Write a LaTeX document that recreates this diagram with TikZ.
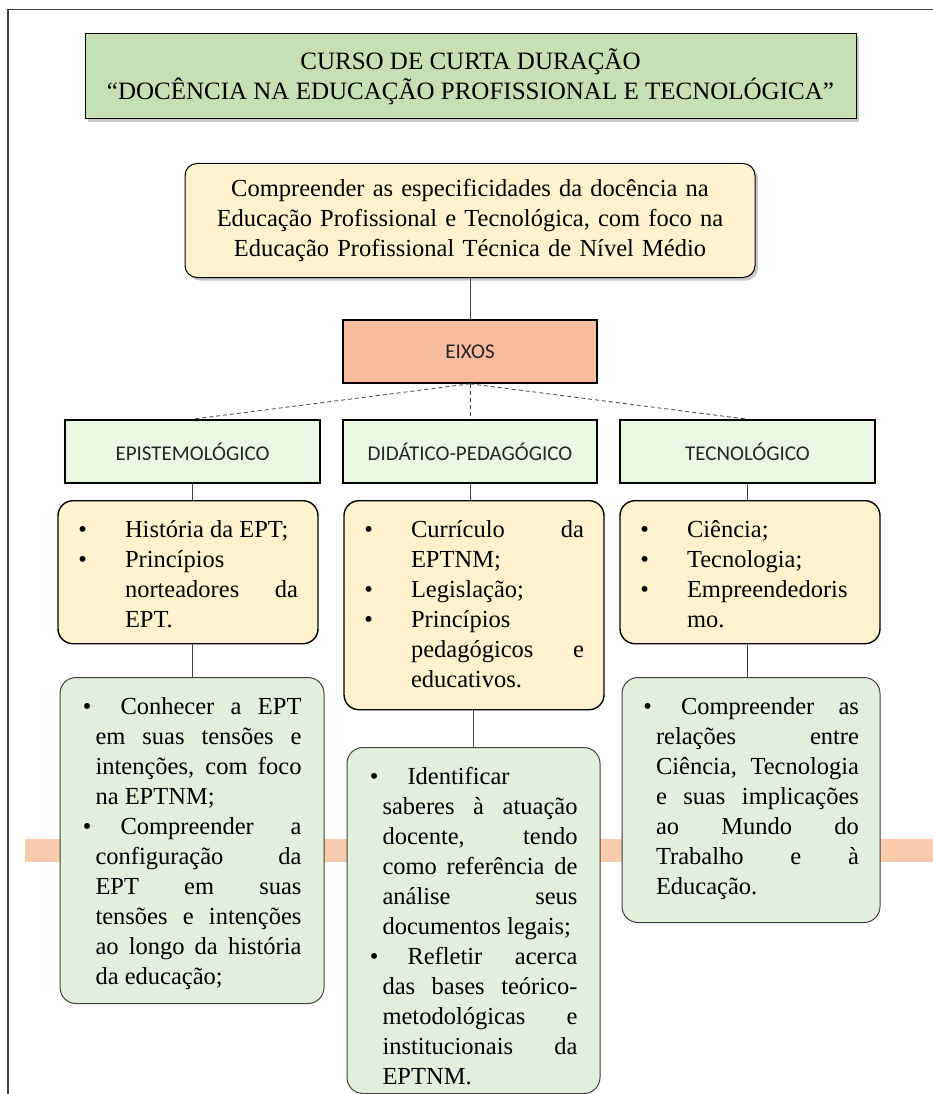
\documentclass[tikz,border=0pt]{standalone}
\usepackage{fontspec}
\setmainfont{Liberation Serif}
\newfontfamily\calibri{Carlito}
\usetikzlibrary{shadows}
\definecolor{verdetitulo}{HTML}{C5E0B4}
\definecolor{amarelo}{HTML}{FFF2CC}
\definecolor{verdeclaro}{HTML}{E2EFDA}
\definecolor{verdeeixo}{HTML}{EBF8E1}
\definecolor{salmao}{HTML}{F8BC9F}
\definecolor{faixa}{HTML}{F8CBAD}
\hyphenpenalty=10000
\hbadness=10000

\newenvironment{topicos}[3]{\begin{list}{\textbullet}{%
  \setlength{\leftmargin}{#1}\setlength{\itemindent}{#2}%
  \setlength{\labelsep}{#3}\setlength{\labelwidth}{12pt}%
  \setlength{\topsep}{0pt}\setlength{\partopsep}{0pt}%
  \setlength{\itemsep}{0pt}\setlength{\parsep}{0pt}}}{\end{list}}

\tikzset{
  texto/.style={font=\fontsize{24.5pt}{30pt}\selectfont},
  titulo/.style={draw=black, line width=1pt, fill=verdetitulo, minimum width=771pt, minimum height=85pt,
    align=center, font=\fontsize{25pt}{30pt}\selectfont,
    drop shadow={shadow xshift=3pt, shadow yshift=-3pt, opacity=.45}},
  objetivo/.style={texto, text height=21pt, draw=black, line width=1pt, fill=amarelo, rounded corners=12pt,
    text width=540pt, align=center, inner xsep=15pt, inner ysep=12pt, anchor=north,
    drop shadow={shadow xshift=3pt, shadow yshift=-3pt, opacity=.45}},
  eixo/.style={draw=black, line width=1.6pt, minimum height=63pt, text=black!85,
    font=\calibri\fontsize{21pt}{25pt}\selectfont},
  topico/.style={texto, text height=0pt, draw=black, line width=1.4pt, fill=amarelo, rounded corners=15pt,
    align=justify, text width=220pt, inner xsep=20pt, inner ysep=6.5pt, anchor=north},
  meta/.style={texto, text height=0pt, draw=black!75, line width=1pt, fill=verdeclaro, rounded corners=16pt,
    align=justify, inner ysep=6.5pt, anchor=north},
  liga/.style={draw=black!75, line width=.8pt},
  tracejado/.style={liga, dash pattern=on 4pt off 3pt}
}

\begin{document}
\begin{tikzpicture}[x=1pt,y=-1pt]
\useasboundingbox (0,0) rectangle (933,1094);
\draw[black!75, line width=1.5pt] (8,1094) -- (8,9.5) -- (933,9.5);
\fill[faixa] (25,839) rectangle (933,862);

\node[titulo] (curso) at (470.5,76.5) {CURSO DE CURTA DURAÇÃO\\“DOCÊNCIA NA EDUCAÇÃO PROFISSIONAL E TECNOLÓGICA”};
\node[objetivo, text depth=69pt] (objetivo) at (470,163) {Compreender as especificidades da docência na\\
  Educação Profissional e Tecnológica, com foco na\\ Educação Profissional Técnica de Nível Médio};

\node[eixo, fill=salmao, minimum width=254pt] (eixos) at (470,351.5) {EIXOS};
\node[eixo, fill=verdeeixo, minimum width=255pt] (epist) at (192.5,451.5) {EPISTEMOLÓGICO};
\node[eixo, fill=verdeeixo, minimum width=254pt] (didat) at (470,451.5) {DIDÁTICO-PEDAGÓGICO};
\node[eixo, fill=verdeeixo, minimum width=255pt] (tecno) at (747.5,451.5) {TECNOLÓGICO};

\node[topico, text depth=130pt] (hist) at (188,500) {\begin{topicos}{47pt}{0pt}{38pt}
  \item História da EPT;
  \item Princípios\linebreak norteadores da\linebreak EPT.
\end{topicos}};
\node[topico, text depth=196pt] (curriculo) at (474,500) {\begin{topicos}{47pt}{0pt}{38pt}
  \item Currículo da\linebreak EPTNM;
  \item Legislação;
  \item Princípios\linebreak pedagógicos e\linebreak educativos.
\end{topicos}};
\node[topico, text depth=130pt] (ciencia) at (750,500) {\begin{topicos}{47pt}{0pt}{38pt}
  \item Ciência;
  \item Tecnologia;
  \item Empreendedoris\linebreak mo.
\end{topicos}};

\node[meta, text width=219pt, inner xsep=22.5pt, text depth=313pt] (conhecer) at (192,677) {\begin{topicos}{13pt}{25pt}{29pt}
  \item Conhecer a EPT\linebreak em suas tensões e\linebreak intenções, com foco\linebreak na EPTNM;
  \item Compreender a\linebreak configuração da\linebreak EPT em suas\linebreak tensões e intenções\linebreak ao longo da história\linebreak da educação;
\end{topicos}};
\node[meta, text width=208pt, inner xsep=22.5pt, text depth=333pt] (identificar) at (473.5,747) {\begin{topicos}{13pt}{25pt}{29pt}
  \item Identificar\linebreak saberes à atuação\linebreak docente, tendo\linebreak como referência de\linebreak análise seus\linebreak documentos legais;
  \item Refletir acerca\linebreak das bases teórico-\linebreak metodológicas e\linebreak institucionais da\linebreak EPTNM.
\end{topicos}};
\node[meta, text width=216pt, inner xsep=21pt, text depth=232pt] (relacoes) at (751,677) {\begin{topicos}{13pt}{25pt}{29pt}
  \item Compreender as\linebreak relações entre\linebreak Ciência, Tecnologia\linebreak e suas implicações\linebreak ao Mundo do\linebreak Trabalho e à\linebreak Educação.
\end{topicos}};

\draw[liga] (objetivo.south) -- (eixos.north);
\foreach \e in {epist,didat,tecno}
  \draw[tracejado] (eixos.south) -- (\e.north);
\draw[liga] (epist.south) -- (epist.south |- hist.north);
\draw[liga] (didat.south) -- (didat.south |- curriculo.north);
\draw[liga] (tecno.south) -- (tecno.south |- ciencia.north);
\draw[liga] (hist.south -| conhecer.north) -- (conhecer.north);
\draw[liga] (curriculo.south -| identificar.north) -- (identificar.north);
\draw[liga] (ciencia.south -| tecno.south) -- (tecno.south |- relacoes.north);
\end{tikzpicture}
\end{document}
